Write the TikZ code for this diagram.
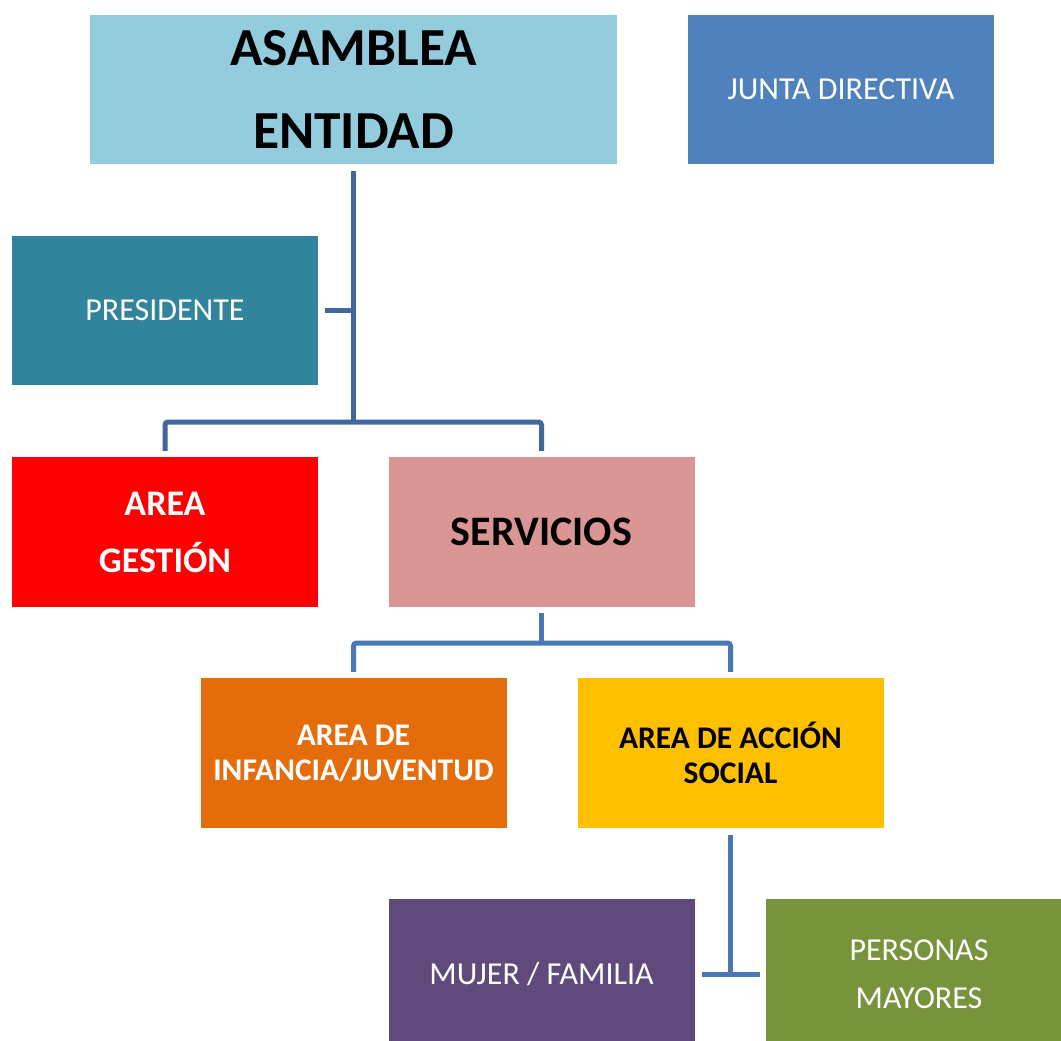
\documentclass[tikz,border=0pt]{standalone}
\usepackage{fontspec}
\setmainfont{Carlito}
\usetikzlibrary{calc}
\definecolor{cAsam}{HTML}{93CDDD}
\definecolor{cJunta}{HTML}{4F81BD}
\definecolor{cPres}{HTML}{31849B}
\definecolor{cGest}{HTML}{FF0000}
\definecolor{cServ}{HTML}{D99694}
\definecolor{cInf}{HTML}{E46C0A}
\definecolor{cAcc}{HTML}{FFC000}
\definecolor{cMuj}{HTML}{604A7B}
\definecolor{cPers}{HTML}{77933C}
\definecolor{cLineA}{HTML}{41679B}
\definecolor{cLineB}{HTML}{4A78B5}
\tikzset{
  box/.style={rectangle, draw=none, inner sep=0pt, minimum width=306pt, minimum height=150pt, align=center},
  conn/.style={line width=5pt, cLineA, rounded corners=3pt},
  connb/.style={line width=5pt, cLineB, rounded corners=3pt},
}
\begin{document}
\begin{tikzpicture}[x=1pt,y=-1pt]
\useasboundingbox (0,0) rectangle (1061,1041);
\clip (0,0) rectangle (1061,1041);
\node[box, fill=cAsam, minimum width=527pt, minimum height=149pt, font=\fontsize{53.5}{83}\selectfont\bfseries, text=black] (asam) at (353.5,89.5) {ASAMBLEA\\ENTIDAD};
\node[box, fill=cJunta, minimum height=149pt, font=\fontsize{32}{36}\selectfont, text=white] (junta) at (841,89.5) {JUNTA DIRECTIVA};
\node[box, fill=cPres, minimum height=149pt, font=\fontsize{32}{36}\selectfont, text=white] (pres) at (165,310.5) {PRESIDENTE};
\node[box, fill=cGest, font=\fontsize{36}{57}\selectfont\bfseries, text=white] (gest) at (165,532) {AREA\\GESTIÓN};
\node[box, fill=cServ, font=\fontsize{42}{50}\selectfont\bfseries, text=black] (serv) at (541.5,532) {SERVICIOS};
\node[box, fill=cInf, font=\fontsize{31.5}{35}\selectfont\bfseries, text=white] (inf) at (353.5,753) {AREA DE\\INFANCIA/JUVENTUD};
\node[box, fill=cAcc, font=\fontsize{31.5}{35}\selectfont\bfseries, text=black] (acc) at (730.5,753) {AREA DE ACCIÓN\\SOCIAL};
\node[box, fill=cMuj, font=\fontsize{32}{48}\selectfont, text=white] (muj) at (541.5,974) {MUJER / FAMILIA};
\node[box, fill=cPers, font=\fontsize{32}{48}\selectfont, text=white] (pers) at (919,974) {PERSONAS\\MAYORES};
% top tree
\coordinate (b1) at (353.5,422);
\draw[conn] ([yshift=-7pt]asam.south) -- (b1);
\draw[conn] ([xshift=7pt]pres.east) -- (pres.east -| b1);
\draw[conn] ([yshift=6pt]gest.north) |- (b1) -| ([yshift=6pt]serv.north);
% services tree
\coordinate (b2) at (541.5,643);
\draw[connb] ([yshift=-6pt]serv.south) -- (b2);
\draw[connb] ([yshift=6pt]inf.north) |- (b2) -| ([yshift=6pt]acc.north);
% social tree
\coordinate (b3) at (730.5,974);
\draw[connb] ([yshift=-7pt]acc.south) -- (b3);
\draw[connb] ([xshift=7pt]muj.east) -- ([xshift=-6pt]pers.west);
\end{tikzpicture}
\end{document}
